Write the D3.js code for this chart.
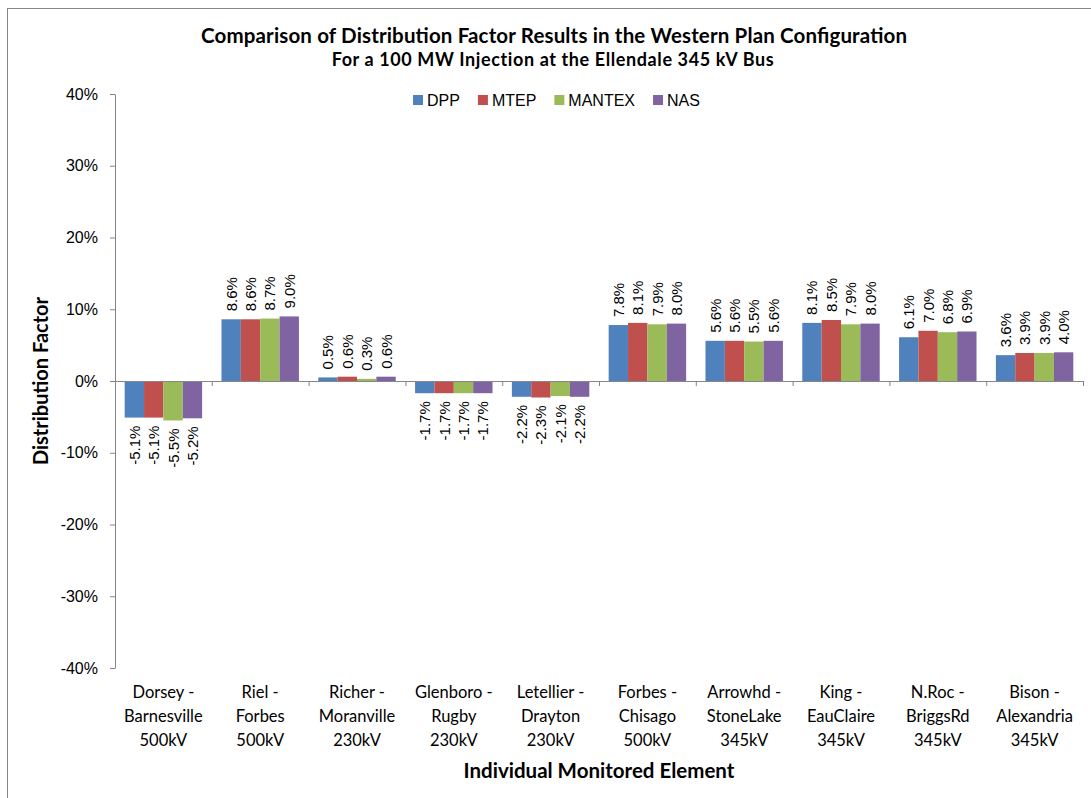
<!DOCTYPE html>
<html>
<head>
<meta charset="utf-8">
<script src="https://cdn.jsdelivr.net/npm/d3@7/dist/d3.min.js"></script>
<style>
  html, body { margin: 0; padding: 0; background: #fff; }
  svg { display: block; }
</style>
</head>
<body>
<svg id="chart" width="1091" height="798"></svg>
<script>
// Monitored elements (three-line labels) and distribution factors in percent
const categories = [
  ["Dorsey -", "Barnesville", "500kV"],
  ["Riel -", "Forbes", "500kV"],
  ["Richer -", "Moranville", "230kV"],
  ["Glenboro -", "Rugby", "230kV"],
  ["Letellier -", "Drayton", "230kV"],
  ["Forbes -", "Chisago", "500kV"],
  ["Arrowhd -", "StoneLake", "345kV"],
  ["King -", "EauClaire", "345kV"],
  ["N.Roc -", "BriggsRd", "345kV"],
  ["Bison -", "Alexandria", "345kV"]
];
const seriesNames = ["DPP", "MTEP", "MANTEX", "NAS"];
const dpp    = [-5.1, 8.6, 0.5, -1.7, -2.2, 7.8, 5.6, 8.1, 6.1, 3.6];
const mtep   = [-5.1, 8.6, 0.6, -1.7, -2.3, 8.1, 5.6, 8.5, 7.0, 3.9];
const mantex = [-5.5, 8.7, 0.3, -1.7, -2.1, 7.9, 5.5, 7.9, 6.8, 3.9];
const nas    = [-5.2, 9.0, 0.6, -1.7, -2.2, 8.0, 5.6, 8.0, 6.9, 4.0];
const yTicks = [-40, -30, -20, -10, 0, 10, 20, 30, 40];

const seriesValues = [dpp, mtep, mantex, nas];
const colors = ["#4F81BD", "#C0504D", "#9BBB59", "#8064A2"];

const svg = d3.select("#chart");
const sans = "'Liberation Sans', Arial, sans-serif";
const humanist = "Lato, 'Open Sans', sans-serif";
const axisGray = "#868686";

// Outer chart frame
svg.append("rect")
  .attr("x", 7.5).attr("y", 8.5)
  .attr("width", 1200).attr("height", 1000)
  .attr("fill", "none").attr("stroke", axisGray).attr("stroke-width", 1);

const plot = { left: 115, right: 1083, top: 94, bottom: 668 };

const y = d3.scaleLinear().domain([-40, 40]).range([plot.bottom, plot.top]);
const x0 = d3.scaleBand().domain(d3.range(categories.length))
  .range([plot.left, plot.right]).padding(0);
const x1 = d3.scaleBand().domain(d3.range(seriesNames.length))
  .range([x0.bandwidth() * 0.1, x0.bandwidth() * 0.9]).padding(0);

// Bars
const groups = svg.append("g").selectAll("g")
  .data(categories.map((c, i) => i))
  .join("g")
  .attr("transform", i => `translate(${x0(i)},0)`);

groups.selectAll("rect")
  .data(i => seriesValues.map((vals, s) => ({ s, v: vals[i] })))
  .join("rect")
  .attr("x", d => x1(d.s))
  .attr("width", x1.bandwidth())
  .attr("y", d => Math.min(y(d.v), y(0)))
  .attr("height", d => Math.abs(y(d.v) - y(0)))
  .attr("fill", d => colors[d.s]);

// Data labels, rotated
groups.selectAll("text")
  .data(i => seriesValues.map((vals, s) => ({ s, v: vals[i] })))
  .join("text")
  .attr("transform", d => {
    const cx = x1(d.s) + x1.bandwidth() / 2;
    const ty = d.v >= 0 ? y(d.v) - 8 : y(d.v) + 8;
    return `translate(${cx},${ty}) rotate(-90)`;
  })
  .attr("text-anchor", d => d.v >= 0 ? "start" : "end")
  .attr("dominant-baseline", "central")
  .attr("font-family", sans)
  .attr("font-size", 15)
  .attr("fill", "#000")
  .text(d => d.v.toFixed(1) + "%");

// Y axis
const yAxis = svg.append("g")
  .attr("transform", `translate(${plot.left},0)`)
  .call(d3.axisLeft(y).tickValues(yTicks).tickFormat(d => d + "%")
    .tickSize(5).tickSizeOuter(0).tickPadding(12));
yAxis.select(".domain").attr("stroke", axisGray);
yAxis.selectAll(".tick line").attr("stroke", axisGray);
yAxis.selectAll(".tick text")
  .attr("font-family", sans).attr("font-size", 16).attr("fill", "#000");

// Horizontal axis at zero with ticks at category boundaries
const xEdges = d3.scaleLinear().domain([0, categories.length]).range([plot.left, plot.right]);
const xAxis = svg.append("g")
  .attr("transform", `translate(0,${y(0)})`)
  .call(d3.axisBottom(xEdges).tickValues(d3.range(categories.length + 1))
    .tickFormat("").tickSize(5).tickSizeOuter(0));
xAxis.select(".domain").attr("stroke", axisGray);
xAxis.selectAll(".tick line").attr("stroke", axisGray);

// Category labels
const catLabels = svg.append("g").selectAll("text")
  .data(categories)
  .join("text")
  .attr("text-anchor", "middle")
  .attr("font-family", humanist)
  .attr("font-size", 16.5)
  .attr("fill", "#000");
catLabels.each(function(lines, i) {
  const t = d3.select(this);
  lines.forEach((ln, k) => {
    t.append("tspan")
      .attr("x", x0(i) + x0.bandwidth() / 2)
      .attr("y", 698 + k * 24)
      .text(ln);
  });
});

// Titles
svg.append("text")
  .attr("x", 554).attr("y", 43)
  .attr("text-anchor", "middle")
  .attr("font-family", humanist).attr("font-weight", "bold").attr("font-size", 20.5)
  .attr("textLength", 706).attr("lengthAdjust", "spacing")
  .text("Comparison of Distribution Factor Results in the Western Plan Configuration");
svg.append("text")
  .attr("x", 553).attr("y", 66)
  .attr("text-anchor", "middle")
  .attr("font-family", humanist).attr("font-weight", "bold").attr("font-size", 18)
  .attr("letter-spacing", 0.6)
  .text("For a 100 MW Injection at the Ellendale 345 kV Bus");

svg.append("text")
  .attr("transform", `translate(48,381) rotate(-90)`)
  .attr("text-anchor", "middle")
  .attr("font-family", humanist).attr("font-weight", "bold").attr("font-size", 20)
  .text("Distribution Factor");

svg.append("text")
  .attr("x", 599).attr("y", 778)
  .attr("text-anchor", "middle")
  .attr("font-family", humanist).attr("font-weight", "bold").attr("font-size", 20.5)
  .text("Individual Monitored Element");

// Legend
const legend = svg.append("g");
let lx = 413;
seriesNames.forEach((name, s) => {
  legend.append("rect")
    .attr("x", lx).attr("y", 95).attr("width", 10).attr("height", 10)
    .attr("fill", colors[s]);
  const t = legend.append("text")
    .attr("x", lx + 14).attr("y", 100)
    .attr("dominant-baseline", "central")
    .attr("font-family", sans).attr("font-size", 16)
    .text(name);
  lx += 14 + t.node().getComputedTextLength() + 18;
});
</script>
</body>
</html>
